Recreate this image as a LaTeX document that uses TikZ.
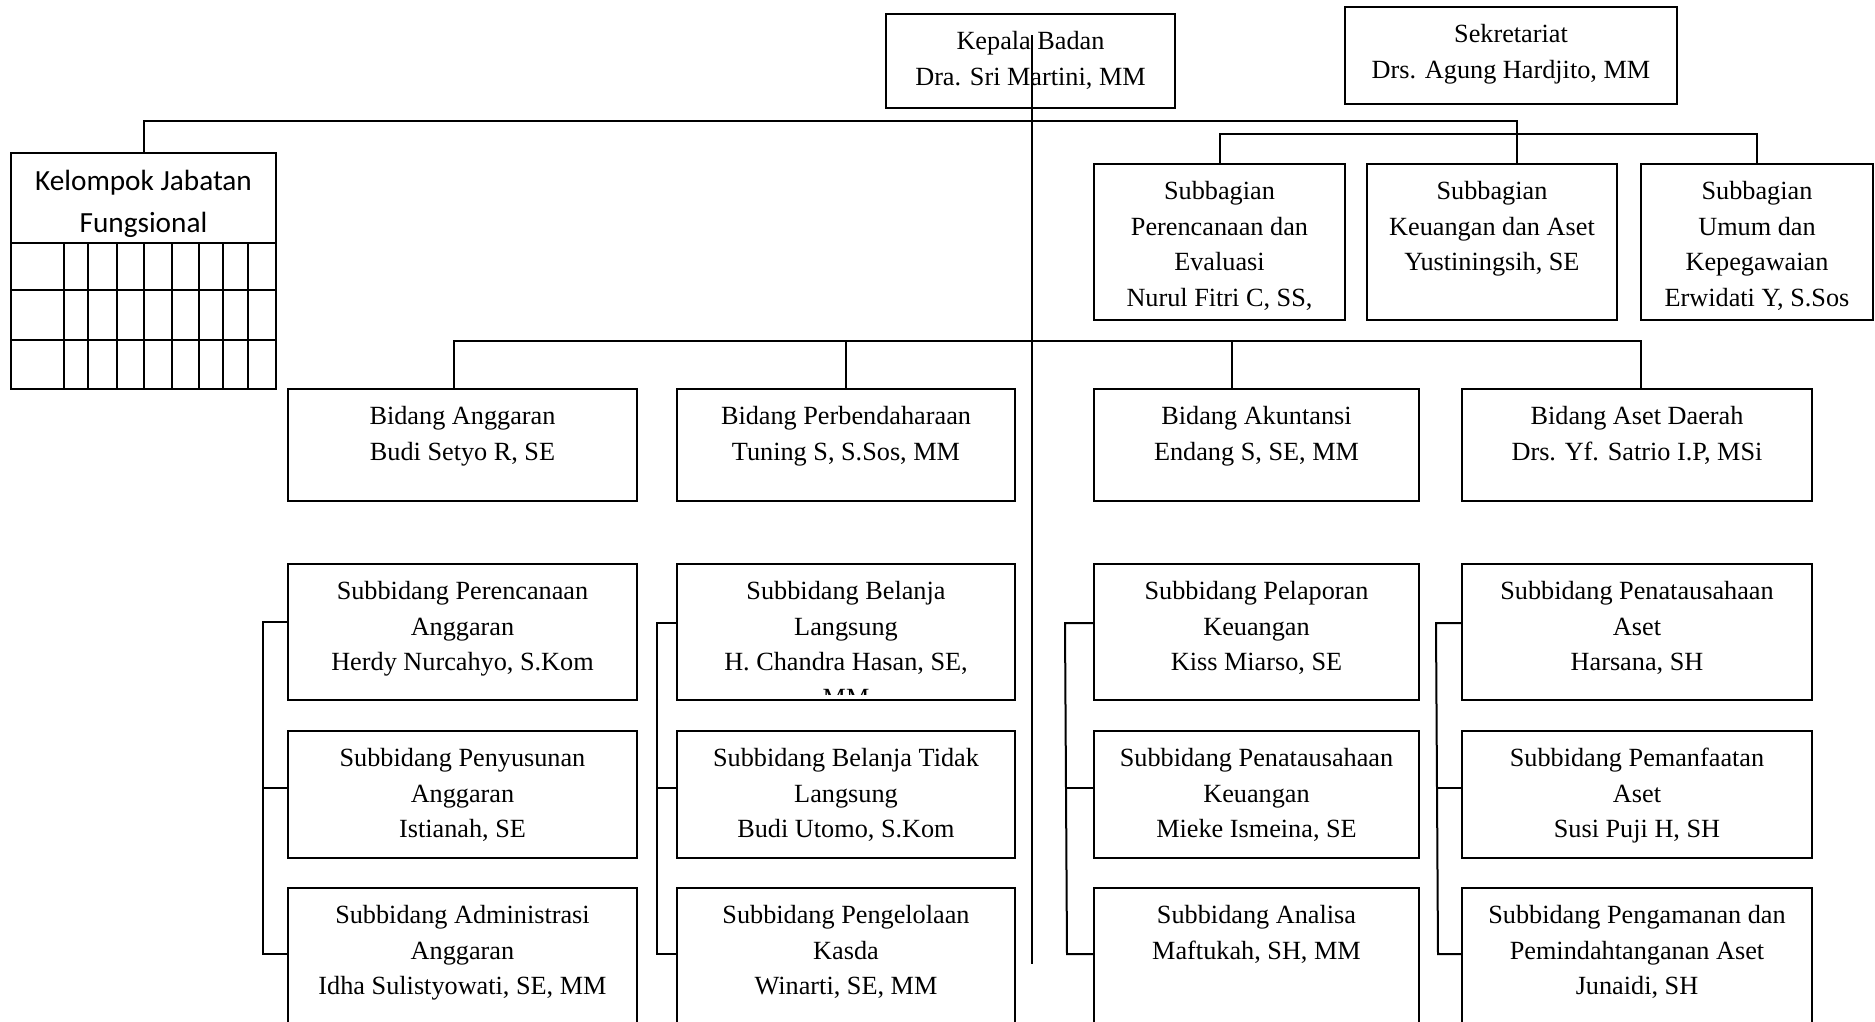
\documentclass[tikz,border=0pt]{standalone}
\usepackage{fontspec}
\setmainfont{Liberation Serif}
\newfontfamily\calfont{Carlito}
\usetikzlibrary{fit}
\tikzset{
  box/.style={draw, line width=0.8pt, inner sep=0pt, rectangle},
  txt/.style={anchor=north, inner sep=0pt, align=center, font=\fontsize{10.5}{14.2}\selectfont},
  ln/.style={line width=0.8pt},
  grid/.style={line width=0.8pt},
}
\newcommand\orgbox[6]{%
  \node[box, fit={(#2,#3)(#4,#5)}] (#1) {};
  \node[txt, yshift=-4.4pt] (#1t) at (#1.north) {\rule{0pt}{10pt}#6};}
\begin{document}
\begin{tikzpicture}[x=0.4pt,y=-0.4pt]
\useasboundingbox (0,0) rectangle (1875,1021);
\fill[white] (0,0) rectangle (1875,1021);
\clip (0,0) rectangle (1875,1021);

% top
\orgbox{kep}{886}{14}{1175}{108}{Kepala Badan\\Dra. Sri Martini, MM}
\orgbox{sek}{1345}{7}{1677}{104}{Sekretariat\\Drs. Agung Hardjito, MM}

% Kelompok jabatan fungsional
\node[box, fit={(11,153)(276,389)}] (kel) {};
\node[anchor=north, inner sep=0pt, align=center, font=\calfont\fontsize{11.7}{16.8}\selectfont, yshift=-4.2pt] (kelt) at (kel.north) {\rule{0pt}{11pt}Kelompok Jabatan\\Fungsional};
\draw[grid] (kel.west |- 0,243) -- (kel.east |- 0,243);
\draw[grid] (kel.west |- 0,290) -- (kel.east |- 0,290);
\draw[grid] (kel.west |- 0,340) -- (kel.east |- 0,340);
\foreach \gx in {64,88,117,144,172,199,223,248}{
  \draw[grid] (\gx,243) -- (\gx,389);
}

% subbagian
\orgbox{sbp}{1094}{164}{1345}{320}{Subbagian\\Perencanaan dan\\Evaluasi\\Nurul Fitri C, SS,}
\orgbox{sbk}{1367}{164}{1617}{320}{Subbagian\\Keuangan dan Aset\\Yustiningsih, SE}
\orgbox{sbu}{1641}{164}{1873}{320}{Subbagian\\Umum dan\\Kepegawaian\\Erwidati Y, S.Sos}

% bidang
\orgbox{ba}{288}{389}{637}{501}{Bidang Anggaran\\Budi Setyo R, SE}
\orgbox{bp}{677}{389}{1015}{501}{Bidang Perbendaharaan\\Tuning S, S.Sos, MM}
\orgbox{bak}{1094}{389}{1419}{501}{Bidang Akuntansi\\Endang S, SE, MM}
\orgbox{bad}{1462}{389}{1812}{501}{Bidang Aset Daerah\\Drs. Yf. Satrio I.P, MSi}

% subbidang column 1
\orgbox{a1}{288}{564}{637}{700}{Subbidang Perencanaan\\Anggaran\\Herdy Nurcahyo, S.Kom}
\orgbox{a2}{288}{731}{637}{858}{Subbidang Penyusunan\\Anggaran\\Istianah, SE}
\orgbox{a3}{288}{888}{637}{1040}{Subbidang Administrasi\\Anggaran\\Idha Sulistyowati, SE, MM}
% column 2
\node[box, fit={(677,564)(1015,700)}] (p1) {};
\begin{scope}
  \clip (677,564) rectangle (1015,694);
  \node[txt, yshift=-4.4pt] (p1t) at (p1.north) {\rule{0pt}{10pt}Subbidang Belanja\\Langsung\\H. Chandra Hasan, SE,\\MM};
\end{scope}
\orgbox{p2}{677}{731}{1015}{858}{Subbidang Belanja Tidak\\Langsung\\Budi Utomo, S.Kom}
\orgbox{p3}{677}{888}{1015}{1040}{Subbidang Pengelolaan\\Kasda\\Winarti, SE, MM}
% column 3
\orgbox{k1}{1094}{564}{1419}{700}{Subbidang Pelaporan\\Keuangan\\Kiss Miarso, SE}
\orgbox{k2}{1094}{731}{1419}{858}{Subbidang Penatausahaan\\Keuangan\\Mieke Ismeina, SE}
\orgbox{k3}{1094}{888}{1419}{1040}{Subbidang Analisa\\Maftukah, SH, MM}
% column 4
\orgbox{s1}{1462}{564}{1812}{700}{Subbidang Penatausahaan\\Aset\\Harsana, SH}
\orgbox{s2}{1462}{731}{1812}{858}{Subbidang Pemanfaatan\\Aset\\Susi Puji H, SH}
\orgbox{s3}{1462}{888}{1812}{1040}{Subbidang Pengamanan dan\\Pemindahtanganan Aset\\Junaidi, SH}

% connectors
\coordinate (vs) at (1032,35);
\coordinate (ve) at (1032,964);
\draw[ln] (vs) -- (ve);

\coordinate (j1) at (1517,121);
\draw[ln] (kel.north) |- (j1) -- (j1 |- sbk.north);
\draw[ln] (sbp.north) -- ++(0,-29) -| (sbu.north);

\coordinate (ja) at (454,341);
\coordinate (jc) at (1232,341);
\coordinate (jd) at (1641,341);
\draw[ln] (ja |- ba.north) -- (ja) -- (jd) -- (jd |- bad.north);
\draw[ln] (bp.north) -- (bp.north |- ja);
\draw[ln] (jc) -- (jc |- bak.north);

% brackets
\coordinate (ca) at (263,622);
\draw[ln] (a1.west |- ca) -- (ca) -- (263,954) -- (a3.west |- 0,954);
\draw[ln] (263,788) -- (a2.west |- 0,788);
\coordinate (cp) at (657,623);
\draw[ln] (p1.west |- cp) -- (cp) -- (657,954) -- (p3.west |- 0,954);
\draw[ln] (657,788) -- (p2.west |- 0,788);
\coordinate (ck) at (1065,623);
\draw[ln] (k1.west |- ck) -- (ck) -- (1067,954) -- (k3.west |- 0,954);
\draw[ln] (1066,788) -- (k2.west |- 0,788);
\coordinate (cs) at (1436,623);
\draw[ln] (s1.west |- cs) -- (cs) -- (1438,954) -- (s3.west |- 0,954);
\draw[ln] (1437,788) -- (s2.west |- 0,788);
\end{tikzpicture}
\end{document}
